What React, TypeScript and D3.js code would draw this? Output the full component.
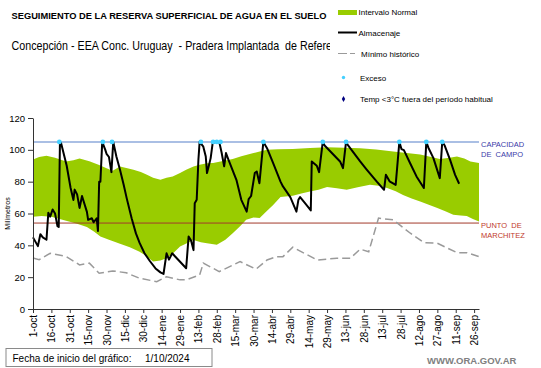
import React, { useEffect, useRef } from 'react';
import * as d3 from 'd3';

// x = days since 1-oct-2024, y = mm
const tickLabels = [
  '1-oct', '16-oct', '31-oct', '15-nov', '30-nov', '15-dic', '30-dic', '14-ene', '29-ene',
  '13-feb', '28-feb', '15-mar', '30-mar', '14-abr', '29-abr', '14-may', '29-may', '13-jun',
  '28-jun', '13-jul', '28-jul', '12-ago', '27-ago', '11-sep', '26-sep',
];
const yTicks = [0, 20, 40, 60, 80, 100, 120];

const normalUpper = [
  [0, 94], [5, 95.5], [11, 96.3], [18, 95], [27, 92.7], [33, 93.5], [38, 94.5], [46, 92.8],
  [54, 90.5], [60, 88.5], [65, 86.8], [71, 89.6], [77, 88.5], [82, 87.5], [88, 86], [93, 84.3],
  [98, 82.5], [104, 81.2], [109, 82.5], [114, 83.3], [120, 85.5], [125, 87.5], [131, 89.5],
  [136, 90.6], [142, 91.5], [147, 91.7], [155, 93], [163, 94.2], [170, 96], [180, 98],
  [185, 99], [191, 100], [200, 100.3], [212, 100.5], [226, 101.2], [240, 101.7], [254, 101.3],
  [267, 101], [280, 100.2], [294, 99], [305, 98], [316, 97], [325, 95.5], [332, 94.2],
  [340, 95], [346, 95.8], [352, 94.5], [357, 92.7], [364, 91.7],
];
const normalLower = [
  [0, 58], [7, 58.5], [15, 58], [27, 55.5], [36, 53.5], [44, 51.5], [50, 48.5], [55, 45.5],
  [62, 43.5], [71, 41], [79, 38.8], [87, 36], [93, 33], [98, 29.8], [104, 30.5], [109, 31.9],
  [115, 35.5], [120, 39.2], [126, 41.5], [131, 43.4], [137, 42], [142, 41.3], [150, 40.3],
  [157, 43.5], [163, 47.6], [169, 52], [174, 56], [180, 57.5], [185, 57.1], [190, 61],
  [196, 65.4], [202, 70.3], [212, 71.1], [219, 72.5], [226, 73.8], [233, 75], [240, 76.6],
  [248, 75.8], [256, 74.9], [265, 76.5], [275, 78], [282, 77.5], [289, 76], [296, 74],
  [302, 71.7], [309, 69.5], [316, 67.5], [323, 65.5], [330, 63.4], [337, 61.2], [343, 59.2],
  [349, 58.7], [354, 58.5], [359, 56.5], [364, 55],
];
const minHistorico = [
  [0, 32], [5, 31], [14, 35], [27, 33], [38, 27.7], [46, 28.8], [54, 22.5], [65, 23.9],
  [76, 22.8], [87, 19.3], [101, 17.2], [109, 20.3], [120, 18.3], [125, 18.3], [136, 21.4],
  [139, 28.8], [152, 23.5], [169, 29.8], [182, 25], [191, 30.8], [199, 32.9], [204, 32.9],
  [212, 38.8], [232, 30.8], [248, 31.9], [259, 31.9], [267, 37.6], [274, 36], [282, 57.1],
  [294, 56], [308, 47.6], [319, 41.7], [330, 41.3], [346, 35.4], [354, 35.4], [364, 32.9],
];
const almacenaje = [
  [0, 45], [4, 39.5], [6, 47], [8, 45], [11, 43.5], [12.5, 60.5], [14, 58], [16, 62.5],
  [18, 60], [20, 52], [21, 51.5], [22, 105], [23, 104], [27.5, 90], [30.7, 76], [33, 68.5],
  [34, 75], [36, 72], [38, 63.5], [40, 71], [44, 61], [45, 56], [48, 57], [49.5, 54.5],
  [52, 57], [53, 49], [54, 80], [55, 80], [56.5, 105], [59, 100], [60, 97.5], [62, 95.5],
  [64, 86], [65.5, 105], [68, 96], [71, 87.5], [74, 78], [76.5, 69.5], [80.5, 57], [84, 47.5],
  [87, 41.5], [91, 35], [95.5, 30], [100, 25.5], [104, 23], [106.5, 22], [109, 35], [111, 31],
  [113.6, 35], [116, 33], [125, 25.6], [127, 45.5], [129, 43], [131, 37], [132, 66.5],
  [133.6, 68.6], [135, 93.8], [136, 105], [139, 102], [141, 95.8], [142, 85.4], [143.5, 90],
  [145, 94.8], [146.6, 104], [149, 105], [152, 105], [154, 98], [156, 89.6], [157.5, 98],
  [159.5, 93.8], [166, 81.2], [170, 68.6], [174.4, 61.2], [176, 69], [178, 71], [181, 85.4],
  [182.6, 86.4], [184.8, 79], [188, 105], [191, 101], [196, 91.7], [202, 80], [204, 77],
  [210, 70.3], [215, 61.2], [216.6, 68.6], [218, 70.3], [222, 66.5], [226.7, 61.9],
  [227.5, 92.7], [231.6, 90], [233.5, 86], [236.5, 105], [238, 102.7], [250.6, 92.7],
  [253, 88.5], [255.5, 105], [257, 103], [267, 92.7], [272, 87.9], [280.6, 80], [286.5, 74.9],
  [288, 84.3], [291, 80.2], [296, 78], [299, 105], [300.7, 100.5], [302.7, 99.8],
  [307.7, 91.7], [313, 83.3], [319, 76], [321, 105], [322.6, 101.5], [326.8, 94.8],
  [332, 82.2], [334, 105], [336, 102.7], [340.4, 93.7], [344.5, 84.3], [347.8, 78.7],
];
const excesoDays = [21.5, 57, 64.5, 137, 147, 150, 153, 188, 236.5, 255.5, 299, 321, 334];
const CAPACIDAD = 105;
const MARCHITEZ = 54;

const width = 541;
const height = 368;
const FONT = 'Liberation Sans, Arial, sans-serif';
const GREEN = '#99cc00';
const CYAN = '#44d0ff';

const App = () => {
  const ref = useRef<SVGSVGElement>(null);

  useEffect(() => {
    const svg = d3.select(ref.current);
    svg.selectAll('*').remove();

    const x = d3.scaleLinear().domain([0, 364]).range([33, 479]);
    const y = d3.scaleLinear().domain([0, 120]).range([309, 118]);
    const line = d3.line<number[]>().x(d => x(d[0])).y(d => y(d[1]));

    // Intervalo normal
    svg.append('path')
      .attr('d', line([...normalUpper, ...normalLower.slice().reverse()]) + 'Z')
      .attr('fill', GREEN);

    // reference lines
    svg.append('line')
      .attr('x1', x(0)).attr('x2', x(364))
      .attr('y1', y(CAPACIDAD)).attr('y2', y(CAPACIDAD))
      .attr('stroke', '#8eaadb').attr('stroke-width', 1.5);
    svg.append('line')
      .attr('x1', x(0)).attr('x2', x(364))
      .attr('y1', y(MARCHITEZ)).attr('y2', y(MARCHITEZ))
      .attr('stroke', '#a23a2a').attr('stroke-width', 1);

    const refLabel = (lines: string[], y0: number, color: string) => {
      lines.forEach((t, i) => {
        svg.append('text')
          .attr('x', 481).attr('y', y0 + i * 10)
          .attr('font-family', FONT).attr('font-size', 7.5)
          .attr('fill', color).style('white-space', 'pre')
          .text(t);
      });
    };
    refLabel(['CAPACIDAD', 'DE  CAMPO'], 147, '#3a3aa8');
    refLabel(['PUNTO  DE', 'MARCHITEZ'], 228, '#c0392b');

    // mínimo histórico
    svg.append('path')
      .attr('d', line(minHistorico))
      .attr('fill', 'none').attr('stroke', '#9a9a9a')
      .attr('stroke-width', 1.5).attr('stroke-dasharray', '8,4');

    // almacenaje
    svg.append('path')
      .attr('d', line(almacenaje))
      .attr('fill', 'none').attr('stroke', '#000')
      .attr('stroke-width', 2).attr('stroke-linejoin', 'round');

    // exceso
    svg.selectAll('.exceso')
      .data(excesoDays)
      .join('circle')
      .attr('cx', d => x(d)).attr('cy', y(CAPACIDAD))
      .attr('r', 2.4).attr('fill', CYAN);

    // axes
    const yAxis = svg.append('g')
      .attr('transform', `translate(${x(0)},0)`)
      .call(d3.axisLeft(y).tickValues(yTicks).tickSize(5).tickSizeOuter(0));
    yAxis.selectAll('text').attr('font-family', FONT).attr('font-size', 9.5).attr('fill', '#000').attr('x', -8);

    const xAxis = svg.append('g')
      .attr('transform', `translate(0,${y(0)})`)
      .call(d3.axisBottom(x)
        .tickValues(tickLabels.map((_, i) => i * 15))
        .tickFormat((_, i) => tickLabels[i])
        .tickSize(4).tickSizeOuter(0));
    xAxis.selectAll('text')
      .attr('font-family', FONT).attr('font-size', 10).attr('fill', '#000')
      .attr('transform', 'rotate(-90)')
      .attr('text-anchor', 'end')
      .attr('x', -6).attr('y', 0).attr('dy', '0.35em');
    svg.selectAll('.domain, .tick line').attr('stroke', '#333');

    svg.append('text')
      .attr('transform', `translate(10,${y(60)}) rotate(-90)`)
      .attr('text-anchor', 'middle')
      .attr('font-family', FONT).attr('font-size', 7)
      .text('Milímetros');

    // titles
    svg.append('text')
      .attr('x', 11.5).attr('y', 18.5)
      .attr('font-family', FONT).attr('font-size', 9.3).attr('font-weight', 'bold')
      .text('SEGUIMIENTO DE LA RESERVA SUPERFICIAL DE AGUA EN EL SUELO');

    svg.append('clipPath').attr('id', 'subclip')
      .append('rect').attr('x', 0).attr('y', 30).attr('width', 330).attr('height', 30);
    svg.append('g')
      .attr('clip-path', 'url(#subclip)')
      .append('text')
      .attr('transform', 'translate(11.5,50) scale(1,1.12)')
      .attr('font-family', FONT).attr('font-size', 10.7)
      .style('white-space', 'pre')
      .text('Concepción - EEA Conc. Uruguay  - Pradera Implantada  de Refere');

    // legend
    const lg = svg.append('g').attr('font-family', FONT).attr('font-size', 8).attr('fill', '#000');
    lg.append('rect').attr('x', 338).attr('y', 10).attr('width', 19).attr('height', 5).attr('fill', GREEN);
    lg.append('text').attr('x', 358.5).attr('y', 15.3).text('Intervalo Normal');
    lg.append('line').attr('x1', 338).attr('x2', 357).attr('y1', 32.5).attr('y2', 32.5)
      .attr('stroke', '#000').attr('stroke-width', 2);
    lg.append('text').attr('x', 358.5).attr('y', 35.5).text('Almacenaje');
    lg.append('line').attr('x1', 338).attr('x2', 358).attr('y1', 53.5).attr('y2', 53.5)
      .attr('stroke', '#9a9a9a').attr('stroke-width', 1).attr('stroke-dasharray', '9,3,5,30');
    lg.append('text').attr('x', 361).attr('y', 56.5).text('Mínimo histórico');
    lg.append('circle').attr('cx', 343.5).attr('cy', 77.5).attr('r', 1.7).attr('fill', CYAN);
    lg.append('text').attr('x', 360).attr('y', 80.5).text('Exceso');
    lg.append('path').attr('d', d3.symbol(d3.symbolDiamond, 10)())
      .attr('transform', 'translate(343.5,99)').attr('fill', '#000080');
    lg.append('text').attr('x', 360).attr('y', 102).text('Temp <3°C fuera del período habitual');

    // footer
    svg.append('rect')
      .attr('x', 6).attr('y', 348.5).attr('width', 206).attr('height', 18)
      .attr('fill', '#fff').attr('stroke', '#8a8a8a').attr('stroke-width', 1);
    svg.append('text')
      .attr('x', 12.5).attr('y', 361.5)
      .attr('font-family', FONT).attr('font-size', 10)
      .text('Fecha de inicio del gráfico:');
    svg.append('text')
      .attr('x', 145).attr('y', 361.5)
      .attr('font-family', FONT).attr('font-size', 10)
      .text('1/10/2024');
    svg.append('text')
      .attr('x', 427).attr('y', 364)
      .attr('font-family', FONT).attr('font-size', 9.5).attr('font-weight', 'bold')
      .attr('fill', '#808080')
      .text('WWW.ORA.GOV.AR');
  }, []);

  return (
    <svg
      ref={ref}
      width={width}
      height={height}
      style={{ position: 'absolute', left: 0, top: 0, background: '#fff' }}
    />
  );
};

export default App;
